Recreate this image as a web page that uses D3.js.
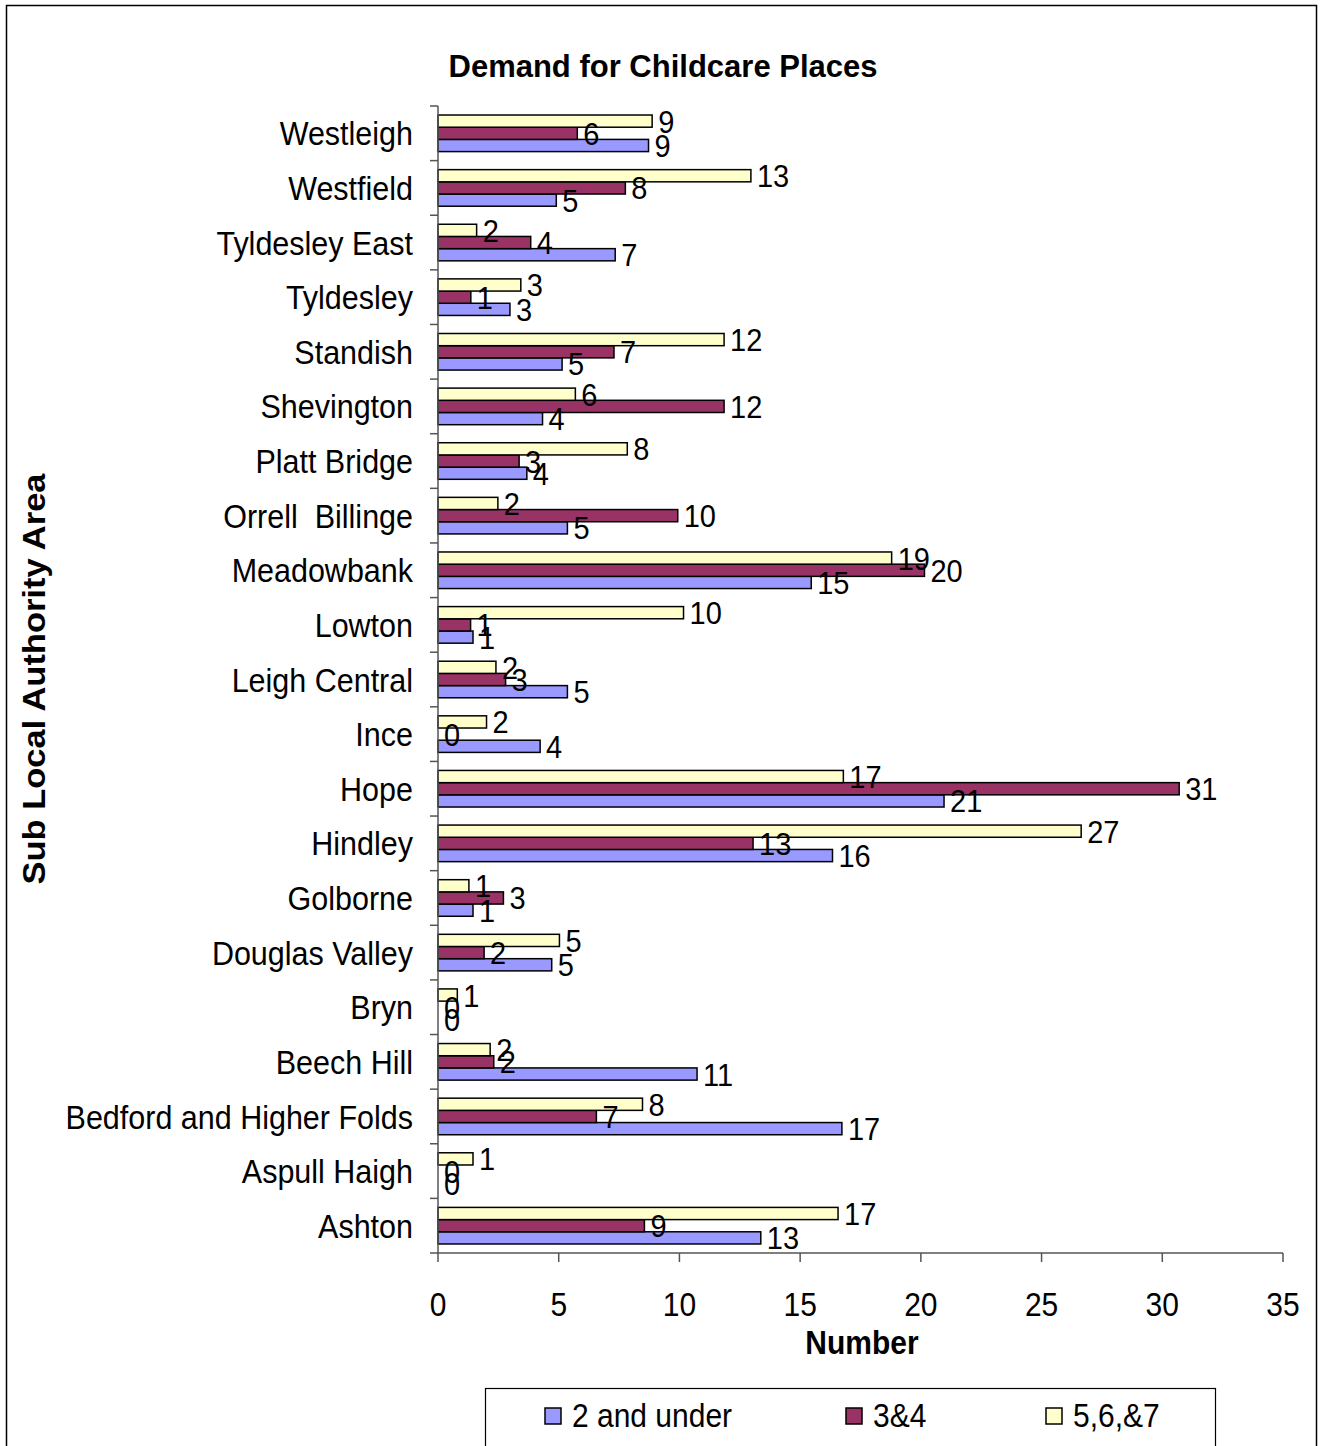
<!DOCTYPE html>
<html>
<head>
<meta charset="utf-8">
<script src="https://cdn.jsdelivr.net/npm/d3@7"></script>
<style>
  body { margin: 0; background: #fff; }
  svg { display: block; font-family: "Liberation Sans", Arial, sans-serif; }
  text { white-space: pre; }
</style>
</head>
<body>
<svg id="chart" width="1325" height="1446"></svg>
<script>
// Data (bar lengths are the unrounded values, labels are rounded)
const AREAS = ["Westleigh","Westfield","Tyldesley East","Tyldesley","Standish","Shevington",
  "Platt Bridge","Orrell  Billinge","Meadowbank","Lowton","Leigh Central","Ince","Hope",
  "Hindley","Golborne","Douglas Valley","Bryn","Beech Hill","Bedford and Higher Folds",
  "Aspull Haigh","Ashton"];

const SERIES = ["2 and under", "3&4", "5,6,&7"];

const under2  = [8.72, 4.90, 7.34, 2.98, 5.14, 4.33, 3.68, 5.36, 15.46, 1.45, 5.36, 4.23, 20.96,
                 16.34, 1.45, 4.71, 0, 10.73, 16.73, 0, 13.37];
const age34   = [5.77, 7.76, 3.84, 1.36, 7.29, 11.85, 3.36, 9.93, 20.15, 1.35, 2.80, 0, 30.70,
                 13.05, 2.71, 1.91, 0, 2.31, 6.56, 0, 8.55];
const age567  = [8.87, 12.96, 1.60, 3.43, 11.85, 5.69, 7.84, 2.48, 18.79, 10.17, 2.40, 2.01, 16.79,
                 26.64, 1.28, 5.03, 0.80, 2.16, 8.47, 1.45, 16.57];

const X_TICKS = [0, 5, 10, 15, 20, 25, 30, 35];

const COLORS = { "2 and under": "#9999ff", "3&4": "#993366", "5,6,&7": "#ffffcc" };
const VALUES = { "2 and under": under2, "3&4": age34, "5,6,&7": age567 };

// Layout
const svg = d3.select("#chart");
const PLOT = { left: 438, right: 1283, top: 106, bottom: 1253 };
const STRETCH = 1.1;   // text in the picture is a little taller than wide

const x = d3.scaleLinear().domain([0, 35]).range([PLOT.left, PLOT.right]);
const y = d3.scaleBand().domain(AREAS).range([PLOT.top, PLOT.bottom]);
// top to bottom inside a group: 5,6,&7 / 3&4 / 2 and under
const yInner = d3.scaleBand().domain(SERIES.slice().reverse())
  .range([0, y.bandwidth()]).paddingOuter(0.74);

// outer frame
svg.append("rect").attr("x", 6.5).attr("y", 5.5).attr("width", 1310).attr("height", 1460)
  .attr("fill", "none").attr("stroke", "#000").attr("stroke-width", 1.5);

// title
svg.append("text").attr("x", 663).attr("y", 77).attr("text-anchor", "middle")
  .attr("font-size", 31).attr("font-weight", "bold").text("Demand for Childcare Places");

// bars
const groups = svg.append("g").selectAll("g").data(AREAS).join("g")
  .attr("transform", d => `translate(0,${y(d)})`);

SERIES.forEach(s => {
  groups.append("rect")
    .attr("x", x(0))
    .attr("y", yInner(s))
    .attr("width", (d, i) => x(VALUES[s][i]) - x(0))
    .attr("height", yInner.bandwidth())
    .attr("fill", COLORS[s])
    .attr("stroke", "#000")
    .attr("stroke-width", 1.5)
    .attr("display", (d, i) => VALUES[s][i] > 0 ? null : "none");
});

// value labels (drawn after every bar so they sit on top)
SERIES.forEach(s => {
  groups.append("text")
    .attr("transform", (d, i) =>
      `translate(${x(VALUES[s][i]) + 6},${yInner(s) + yInner.bandwidth() / 2}) scale(1,${STRETCH})`)
    .attr("dy", "0.36em")
    .attr("font-size", 29)
    .text((d, i) => Math.round(VALUES[s][i]));
});

// y axis
const yAxisG = svg.append("g").attr("transform", `translate(${PLOT.left},0)`);
yAxisG.append("line").attr("x1", 0).attr("x2", 0).attr("y1", PLOT.top).attr("y2", PLOT.bottom)
  .attr("stroke", "#555").attr("stroke-width", 1.5);
const edges = AREAS.map(a => y(a)).concat([PLOT.bottom]);
yAxisG.selectAll("line.tick").data(edges).join("line").attr("class", "tick")
  .attr("x1", -8).attr("x2", 0).attr("y1", d => d).attr("y2", d => d)
  .attr("stroke", "#555").attr("stroke-width", 1.5);
yAxisG.selectAll("text").data(AREAS).join("text")
  .attr("transform", d => `translate(-25,${y(d) + y.bandwidth() / 2}) scale(1,${STRETCH})`)
  .attr("dy", "0.36em")
  .attr("text-anchor", "end")
  .attr("font-size", 30.5)
  .text(d => d);

// x axis
const xAxisG = svg.append("g").attr("transform", `translate(0,${PLOT.bottom})`);
xAxisG.append("line").attr("x1", PLOT.left).attr("x2", PLOT.right).attr("y1", 0).attr("y2", 0)
  .attr("stroke", "#555").attr("stroke-width", 1.5);
xAxisG.selectAll("line.tick").data(X_TICKS).join("line").attr("class", "tick")
  .attr("x1", d => x(d)).attr("x2", d => x(d)).attr("y1", 0).attr("y2", 9)
  .attr("stroke", "#555").attr("stroke-width", 1.5);
xAxisG.selectAll("text").data(X_TICKS).join("text")
  .attr("transform", d => `translate(${x(d)},63) scale(1,${STRETCH})`)
  .attr("text-anchor", "middle")
  .attr("font-size", 30)
  .text(d => d);

// axis titles
svg.append("text")
  .attr("transform", `translate(862,1354) scale(1,${STRETCH})`)
  .attr("text-anchor", "middle").attr("font-size", 30).attr("font-weight", "bold")
  .text("Number");
svg.append("text")
  .attr("transform", `translate(45,679) rotate(-90) scale(1.13,1)`)
  .attr("text-anchor", "middle").attr("font-size", 30.5).attr("font-weight", "bold")
  .text("Sub Local Authority Area");

// legend
const legend = svg.append("g");
legend.append("rect").attr("x", 485.5).attr("y", 1388.5).attr("width", 730).attr("height", 80)
  .attr("fill", "#fff").attr("stroke", "#000").attr("stroke-width", 1.2);
const LEG_X = [545, 846, 1046];
SERIES.forEach((s, i) => {
  legend.append("rect").attr("x", LEG_X[i]).attr("y", 1408).attr("width", 16).attr("height", 16)
    .attr("fill", COLORS[s]).attr("stroke", "#000").attr("stroke-width", 1.5);
  legend.append("text")
    .attr("transform", `translate(${LEG_X[i] + 27},1427) scale(1,${STRETCH})`)
    .attr("font-size", 30).text(s);
});
</script>
</body>
</html>
